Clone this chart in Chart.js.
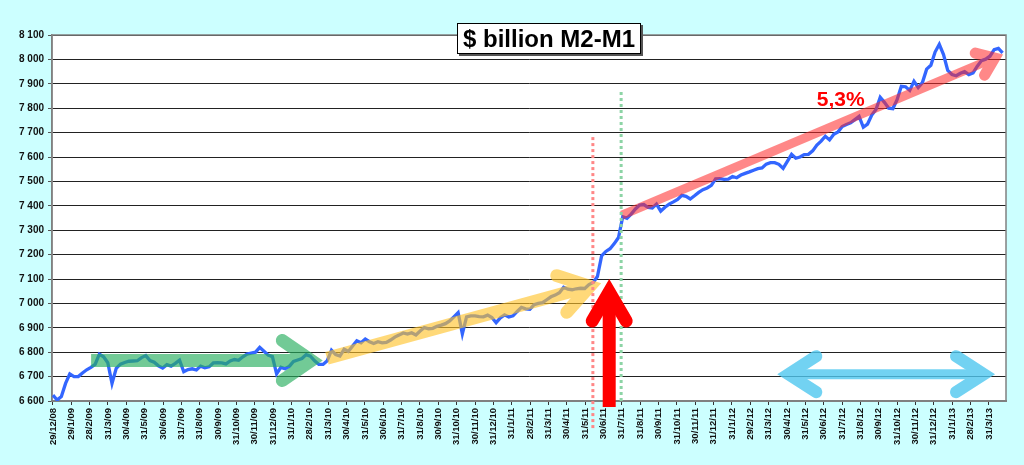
<!DOCTYPE html>
<html>
<head>
<meta charset="utf-8">
<title>$ billion M2-M1</title>
<script src="https://cdn.jsdelivr.net/npm/chart.js@4.4.1/dist/chart.umd.min.js"></script>
<style>
  html, body { margin: 0; padding: 0; background: #ccffff; }
  #chart { display: block; }
</style>
</head>
<body>
<canvas id="chart" width="1024" height="465"></canvas>
<script>
// Month-end tick labels (one per month, starting 29/12/08)
const monthLabels = [
  '29/12/08',
  '29/1/09', '28/2/09', '31/3/09', '30/4/09', '31/5/09', '30/6/09',
  '31/7/09', '31/8/09', '30/9/09', '31/10/09', '30/11/09', '31/12/09',
  '31/1/10', '28/2/10', '31/3/10', '30/4/10', '31/5/10', '30/6/10',
  '31/7/10', '31/8/10', '30/9/10', '31/10/10', '30/11/10', '31/12/10',
  '31/1/11', '28/2/11', '31/3/11', '30/4/11', '31/5/11', '30/6/11',
  '31/7/11', '31/8/11', '30/9/11', '31/10/11', '30/11/11', '31/12/11',
  '31/1/12', '29/2/12', '31/3/12', '30/4/12', '31/5/12', '30/6/12',
  '31/7/12', '31/8/12', '30/9/12', '31/10/12', '30/11/12', '31/12/12',
  '31/1/13', '28/2/13', '31/3/13'
];

// Weekly M2-M1, $ billion, first week = 29/12/08
const m2m1 = [
  6624, 6604, 6618, 6672, 6711, 6700, 6700, 6715, 6728, 6738,
  6750, 6792, 6781, 6757, 6672, 6734, 6751, 6758, 6763, 6764,
  6765, 6778, 6786, 6766, 6759, 6744, 6735, 6749, 6743, 6754,
  6767, 6720, 6729, 6732, 6727, 6743, 6736, 6740, 6756, 6757,
  6756, 6752, 6764, 6770, 6767, 6781, 6792, 6796, 6800, 6820,
  6804, 6788, 6782, 6711, 6738, 6732, 6742, 6762, 6768, 6774,
  6790, 6784, 6765, 6750, 6750, 6765, 6808, 6790, 6784, 6812,
  6803, 6825, 6847, 6839, 6854, 6843, 6836, 6843, 6838, 6840,
  6850, 6862, 6870, 6879, 6874, 6880, 6871, 6887, 6901, 6896,
  6898, 6906, 6911, 6917, 6928, 6945, 6962, 6875, 6945, 6949,
  6949, 6946, 6945, 6952, 6942, 6921, 6941, 6953, 6944, 6949,
  6967, 6984, 6978, 6976, 6995, 7000, 7003, 7015, 7027, 7034,
  7044, 7066, 7058, 7056, 7060, 7062, 7061, 7077, 7086, 7110,
  7195, 7213, 7224, 7245, 7270, 7355, 7349, 7366, 7387, 7403,
  7405, 7393, 7391, 7407, 7378, 7394, 7407, 7416, 7426, 7443,
  7439, 7428, 7441, 7455, 7466, 7473, 7484, 7510, 7511, 7508,
  7509, 7520, 7515, 7526, 7533, 7539, 7546, 7552, 7555, 7571,
  7577, 7577, 7570, 7553, 7582, 7611, 7595, 7600, 7610, 7611,
  7625, 7649, 7665, 7685, 7670, 7693, 7703, 7725, 7733, 7740,
  7753, 7766, 7722, 7735, 7772, 7795, 7845, 7824, 7800, 7798,
  7835, 7890, 7888, 7873, 7910, 7885, 7905, 7960, 7976, 8030,
  8062, 8020, 7955, 7938, 7933, 7943, 7950, 7938, 7945, 7972,
  7995, 8001, 8013, 8040, 8045, 8027
];

const yTicks = { min: 6600, max: 8100, step: 100 };
const titleText = '$ billion M2-M1';
const growthText = '5,3%';

const DAYS_PER_MONTH = 30.4375;
const FONT = "'Liberation Sans', Arial, sans-serif";

// week index -> months since 29/12/08
const points = m2m1.map((v, k) => ({ x: k * 7 / DAYS_PER_MONTH, y: v }));

// Annotations, in chart units (months, $ bn); head sizes in px
const arrows = [
  { from: [2.08, 6766], to: [14.08, 6766], w: 13, L: 29, W: 20, color: 'rgb(40,175,95)', alpha: 0.65 },
  { from: [14.93, 6775], to: [29.25, 7070], w: 13, L: 29, W: 19, color: 'rgb(255,195,40)', alpha: 0.62 },
  { from: [31.0, 7362], to: [51.31, 8006], w: 9, hw: 11, L: 16, W: 12, color: 'rgb(255,40,40)', alpha: 0.55 },
  { from: [40.07, 6710], to: [50.73, 6710], w: 10, hw: 12, L: 28, W: 18, color: 'rgb(80,200,240)', alpha: 0.8, both: true }
];
const bigArrow = { from: [30.31, 6575], to: [30.31, 7047], w: 13, L: 29, W: 17, color: '#ff0000' };
const dotted = [
  { x: 29.42, y0: 6489, y1: 7682, color: 'rgb(255,135,135)' },
  { x: 30.96, y0: 6600, y1: 7875, color: 'rgb(140,212,165)' }
];
const growthLabelAt = [42.92, 7809];

function toPx(chart, p) {
  return [chart.scales.x.getPixelForValue(p[0]), chart.scales.y.getPixelForValue(p[1])];
}

function drawArrow(c, p0, p1, a) {
  const dx = p1[0] - p0[0], dy = p1[1] - p0[1];
  const len = Math.hypot(dx, dy);
  const ux = dx / len, uy = dy / len;
  c.strokeStyle = a.color;
  c.lineWidth = a.w;
  c.lineCap = 'butt';
  c.beginPath();
  c.moveTo(p0[0], p0[1]);
  c.lineTo(p1[0], p1[1]);
  c.stroke();
  const head = (tip, vx, vy) => {
    const nx = -vy, ny = vx;
    c.lineWidth = a.hw || a.w;
    c.lineCap = 'round';
    c.lineJoin = 'miter';
    c.beginPath();
    c.moveTo(tip[0] - vx * a.L + nx * a.W, tip[1] - vy * a.L + ny * a.W);
    c.lineTo(tip[0], tip[1]);
    c.lineTo(tip[0] - vx * a.L - nx * a.W, tip[1] - vy * a.L - ny * a.W);
    c.stroke();
  };
  head(p1, ux, uy);
  if (a.both) head(p0, -ux, -uy);
}

const backgroundPlugin = {
  id: 'background',
  beforeDraw(chart) {
    const { ctx, chartArea: a } = chart;
    ctx.save();
    ctx.fillStyle = '#ccffff';
    ctx.fillRect(0, 0, chart.width, chart.height);
    ctx.fillStyle = '#ffffff';
    ctx.fillRect(a.left, a.top, a.right - a.left, a.bottom - a.top);
    ctx.restore();
  },
  beforeDatasetsDraw(chart) {
    const { ctx, chartArea: a } = chart;
    ctx.save();
    ctx.strokeStyle = '#808080';
    ctx.lineWidth = 1.5;
    ctx.strokeRect(a.left, a.top, a.right - a.left, a.bottom - a.top);
    ctx.restore();
  }
};

const annotationPlugin = {
  id: 'annotations',
  afterDatasetsDraw(chart) {
    const ctx = chart.ctx;
    const dpr = chart.currentDevicePixelRatio;

    // translucent arrows: draw each opaque off-screen, then blend once
    arrows.forEach(a => {
      const off = document.createElement('canvas');
      off.width = chart.canvas.width;
      off.height = chart.canvas.height;
      const o = off.getContext('2d');
      o.setTransform(dpr, 0, 0, dpr, 0, 0);
      drawArrow(o, toPx(chart, a.from), toPx(chart, a.to), a);
      ctx.save();
      ctx.setTransform(1, 0, 0, 1, 0, 0);
      ctx.globalAlpha = a.alpha;
      ctx.drawImage(off, 0, 0);
      ctx.restore();
    });

    // dotted verticals
    ctx.save();
    dotted.forEach(d => {
      const p0 = toPx(chart, [d.x, d.y0]);
      const p1 = toPx(chart, [d.x, d.y1]);
      ctx.strokeStyle = d.color;
      ctx.lineWidth = 3;
      ctx.setLineDash([3, 3]);
      ctx.beginPath();
      ctx.moveTo(p0[0], p0[1]);
      ctx.lineTo(p1[0], p1[1]);
      ctx.stroke();
    });
    ctx.restore();

    // big red arrow
    ctx.save();
    drawArrow(ctx, toPx(chart, bigArrow.from), toPx(chart, bigArrow.to), bigArrow);
    ctx.restore();

    // growth label
    const g = toPx(chart, growthLabelAt);
    ctx.save();
    ctx.font = 'bold 21px ' + FONT;
    ctx.fillStyle = '#ff0000';
    ctx.textAlign = 'center';
    ctx.textBaseline = 'alphabetic';
    ctx.fillText(growthText, g[0], g[1]);
    ctx.restore();

    // title box
    ctx.save();
    const bx = 457, by = 23, bw = 184, bh = 31;
    ctx.fillStyle = '#555';
    ctx.fillRect(bx + 2, by + 2, bw, bh);
    ctx.fillStyle = '#fff';
    ctx.fillRect(bx, by, bw, bh);
    ctx.strokeStyle = '#000';
    ctx.lineWidth = 1;
    ctx.strokeRect(bx + 0.5, by + 0.5, bw - 1, bh - 1);
    ctx.font = 'bold 24px ' + FONT;
    ctx.fillStyle = '#000';
    ctx.textAlign = 'center';
    ctx.textBaseline = 'alphabetic';
    ctx.fillText(titleText, bx + bw / 2, by + 24);
    ctx.restore();
  }
};

const fmtThousands = v => String(v).replace(/\B(?=(\d{3})+(?!\d))/g, ' ');

new Chart(document.getElementById('chart'), {
  type: 'line',
  data: {
    datasets: [{
      label: 'M2-M1',
      data: points,
      borderColor: '#3366ff',
      borderWidth: 3.3,
      pointRadius: 0,
      tension: 0,
      fill: false
    }]
  },
  options: {
    responsive: false,
    animation: false,
    layout: { padding: { top: 35, right: 18, left: 0, bottom: 0 } },
    plugins: {
      legend: { display: false },
      tooltip: { enabled: false }
    },
    scales: {
      x: {
        type: 'linear',
        min: -0.05,
        max: 51.93,
        afterFit: s => { s.height = 64; },
        grid: { drawOnChartArea: false, drawTicks: true, tickLength: 4, color: '#333' },
        border: { color: '#808080', width: 2 },
        ticks: {
          stepSize: 1,
          autoSkip: false,
          includeBounds: false,
          minRotation: 90,
          maxRotation: 90,
          padding: 3,
          color: '#111',
          font: { family: FONT, size: 9.5, weight: 'bold' },
          callback: v => monthLabels[Math.round(v)] || ''
        }
      },
      y: {
        min: yTicks.min,
        max: yTicks.max,
        afterFit: s => { s.width = 52; },
        grid: { color: '#222', lineWidth: 1, tickLength: 4, tickColor: '#555' },
        border: { color: '#808080', width: 1.5 },
        ticks: {
          stepSize: yTicks.step,
          padding: 4,
          color: '#111',
          font: { family: FONT, size: 10, weight: 'bold' },
          callback: v => fmtThousands(v)
        }
      }
    }
  },
  plugins: [backgroundPlugin, annotationPlugin]
});
</script>
</body>
</html>
